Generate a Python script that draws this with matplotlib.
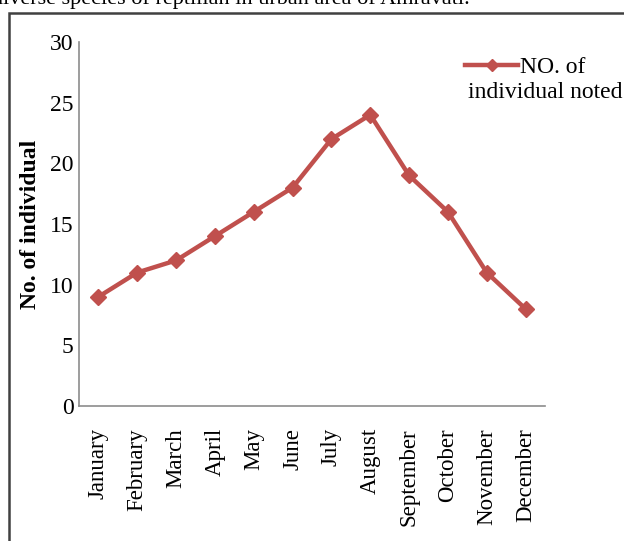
import matplotlib
matplotlib.use("Agg")
import matplotlib.pyplot as plt
from matplotlib.patches import Rectangle

months = ["January", "February", "March", "April", "May", "June",
          "July", "August", "September", "October", "November", "December"]
individuals = [9, 11, 12, 14, 16, 18, 22, 24, 19, 16, 11, 8]
y_ticks = [0, 5, 10, 15, 20, 25, 30]

plt.rcParams["font.family"] = ["Liberation Serif", "DejaVu Serif"]

fig = plt.figure(figsize=(6.24, 5.41), dpi=100)
W, H = 624, 541

# caption line running off the top edge
fig.text(470 / W, 1 - 4 / H,
         "diverse species of reptilian in urban area of Amravati.",
         fontsize=16, color="black", ha="right", va="baseline")

# outer frame of the figure box
fig.patches.append(Rectangle((9 / W, -0.1), 1.2, 1 - 13 / H + 0.1,
                             transform=fig.transFigure, fill=False,
                             edgecolor="#404040", linewidth=1.8))

ax = fig.add_axes([79 / W, 1 - 406 / H, 466 / W, 364 / H])
x = range(len(months))
ax.plot(x, individuals, color="#C0504D", linewidth=3.2, marker="D",
        markersize=8, label="NO. of")

ax.set_xlim(-0.5, len(months) - 0.5)
ax.set_ylim(0, 30)
ax.set_yticks(y_ticks)
ax.set_xticks(list(x))
ax.set_xticklabels(months, rotation=90, fontsize=16.5)
ax.tick_params(axis="y", labelsize=17, length=0, pad=4)
ax.tick_params(axis="x", length=0, pad=16)
for side in ["top", "right"]:
    ax.spines[side].set_visible(False)
for side in ["left", "bottom"]:
    ax.spines[side].set_color("#8c8c8c")
    ax.spines[side].set_linewidth(1.2)

ax.set_ylabel("No. of individual", fontsize=17, fontweight="bold", labelpad=6)

# legend entry, its label wraps under the handle
leg = fig.legend(loc="center left", bbox_to_anchor=(465 / W, 1 - 67 / H),
                 frameon=False, fontsize=17, handlelength=2.25,
                 handletextpad=0.1, borderpad=0, borderaxespad=0,
                 markerscale=0.75)
fig.text(468 / W, 1 - 93 / H, "individual noted", fontsize=17,
         ha="left", va="center")

fig.savefig("out.png", dpi=100)
